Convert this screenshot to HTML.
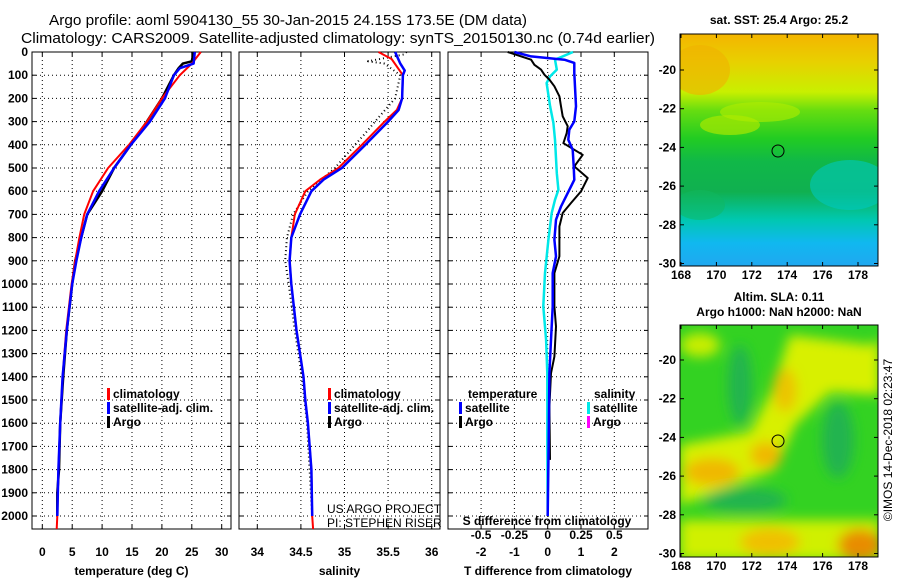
<!DOCTYPE html>
<html><head><meta charset="utf-8"><style>
html,body{margin:0;padding:0;background:#fff;}
svg text{font-family:"Liberation Sans",sans-serif;}
</style></head><body>
<svg id="c" width="900" height="580" viewBox="0 0 900 580" xmlns="http://www.w3.org/2000/svg">
<defs>
<linearGradient id="sstg" x1="0" y1="0" x2="0" y2="1">
<stop offset="0" stop-color="#f4b400"/><stop offset="0.12" stop-color="#e8d000"/><stop offset="0.25" stop-color="#c8f000"/>
<stop offset="0.33" stop-color="#66dd10"/><stop offset="0.45" stop-color="#22cc22"/><stop offset="0.55" stop-color="#10b848"/>
<stop offset="0.68" stop-color="#10b050"/><stop offset="0.8" stop-color="#00c8b0"/><stop offset="0.9" stop-color="#10b8f0"/><stop offset="1" stop-color="#20a8f0"/>
</linearGradient>
<filter id="bl" x="-20%" y="-20%" width="140%" height="140%"><feGaussianBlur stdDeviation="6"/></filter>
<clipPath id="m1c"><rect x="680" y="34" width="198" height="232"/></clipPath>
<clipPath id="m2c"><rect x="680" y="325" width="198" height="232"/></clipPath>
</defs>
<text x="288" y="25" text-anchor="middle" font-size="15" textLength="478" lengthAdjust="spacingAndGlyphs">Argo profile: aoml 5904130_55 30-Jan-2015 24.15S 173.5E (DM data)</text>
<text x="338" y="43" text-anchor="middle" font-size="15" textLength="634" lengthAdjust="spacingAndGlyphs">Climatology: CARS2009. Satellite-adjusted climatology: synTS_20150130.nc (0.74d earlier)</text>
<g id="plots"></g>
<!-- maps -->
<g clip-path="url(#m1c)">
<rect x="680" y="34" width="198" height="232" fill="url(#sstg)"/>
<ellipse cx="730" cy="125" rx="30" ry="10" fill="#a8e800" opacity="0.7"/>
<ellipse cx="760" cy="112" rx="40" ry="10" fill="#b0ec00" opacity="0.6"/>
<ellipse cx="700" cy="70" rx="30" ry="25" fill="#f0b000" opacity="0.6"/>
<ellipse cx="850" cy="185" rx="40" ry="25" fill="#00c8c0" opacity="0.6"/>
<ellipse cx="700" cy="205" rx="25" ry="15" fill="#10b860" opacity="0.5"/>
</g>
<rect x="680" y="34" width="198" height="232" fill="none" stroke="#000"/>
<g clip-path="url(#m2c)">
<rect x="680" y="325" width="198" height="232" fill="#33d222"/>
<g filter="url(#bl)">
<path d="M680 445 L750 432 L772 390 L790 335 L870 345 L880 340 L880 395 L830 392 L795 425 L775 470 L720 490 L680 505 Z" fill="#d8f000"/>
<rect x="680" y="520" width="200" height="40" fill="#d0f000"/>
<ellipse cx="712" cy="472" rx="28" ry="14" fill="#f0b800"/>
<ellipse cx="766" cy="455" rx="16" ry="13" fill="#f0b800"/>
<ellipse cx="785" cy="390" rx="12" ry="22" fill="#ecc400"/>
<ellipse cx="770" cy="542" rx="30" ry="14" fill="#f0c000"/>
<ellipse cx="860" cy="545" rx="22" ry="16" fill="#e88c00"/>
<ellipse cx="745" cy="500" rx="42" ry="12" fill="#20b450"/>
<ellipse cx="740" cy="385" rx="12" ry="40" fill="#20b450"/>
<ellipse cx="838" cy="440" rx="16" ry="38" fill="#20b450"/>
<ellipse cx="700" cy="345" rx="20" ry="12" fill="#c8ee00"/>
</g>
</g>
<rect x="680" y="325" width="198" height="232" fill="none" stroke="#000"/>
<circle cx="778" cy="151" r="6" fill="none" stroke="#000"/>
<circle cx="778" cy="441" r="6" fill="none" stroke="#000"/>
<text x="779" y="24" text-anchor="middle" font-size="12" font-weight="bold">sat. SST: 25.4 Argo: 25.2</text>
<text x="779" y="301" text-anchor="middle" font-size="12" font-weight="bold">Altim. SLA: 0.11</text>
<text x="779" y="316" text-anchor="middle" font-size="12" font-weight="bold">Argo h1000: NaN h2000: NaN</text>
<text transform="translate(892,440) rotate(-90)" text-anchor="middle" font-size="12">©IMOS 14-Dec-2018 02:23:47</text>
<g id="maps-axes"></g>
</svg>
<script>
// ---- data ----
const depthTicks=[0,100,200,300,400,500,600,700,800,900,1000,1100,1200,1300,1400,1500,1600,1700,1800,1900,2000];
const tempTicks=[0,5,10,15,20,25,30];
const salTicks=[34,34.5,35,35.5,36];
const tdiffTicks=[-2,-1,0,1,2];
const sdiffTicks=[-0.5,-0.25,0,0.25,0.5];
const tClimDepth=[0,50,100,200,300,400,500,600,700,800,900,1000,1200,1400,1600,1800,2000,2056];
const tClim=[26.5,25,23,20,17.5,14.5,11,8.5,7,6.2,5.5,4.9,4,3.4,3,2.7,2.5,2.4];
const tSatDepth=[0,50,70,100,200,300,400,500,600,700,800,900,1000,1200,1400,1600,1800,2000];
const tSat=[25.5,25.3,23,22,20.5,18,14.8,12,9.5,7.5,6.5,5.7,5,4.1,3.4,3,2.7,2.5];
const tArgoDepth=[0,40,50,70,100,200,300,400,500,600,700,800,900,1000,1200,1400,1600,1800,1900,2000];
const tArgo=[25.3,25,23.5,22.8,22,20,17.5,14.8,12,10,7.5,6.5,5.5,5,4.1,3.5,3,2.8,2.5,2.5];
const sClimDepth=[0,30,100,200,250,300,400,500,550,600,700,800,900,1000,1100,1200,1300,1400,1500,1600,1800,2000,2056];
const sClim=[35.39,35.54,35.67,35.66,35.6,35.46,35.2,34.93,34.72,34.55,34.43,34.39,34.37,34.39,34.42,34.45,34.49,34.53,34.55,34.58,34.62,34.63,34.64];
const sSatDepth=[0,50,80,100,200,250,300,400,500,550,600,700,800,900,1000,1100,1200,1300,1400,1500,1600,1800,2000];
const sSat=[35.58,35.64,35.69,35.67,35.66,35.62,35.5,35.24,34.97,34.76,34.62,34.49,34.39,34.37,34.39,34.42,34.45,34.49,34.53,34.55,34.58,34.62,34.63];
const sArgoDepth=[0,10,40,50,100,200,300,350,400,500,600,700,800,900,1000,1200,1400,1600,1800,2000];
const sArgo=[35.71,35.69,35.27,35.46,35.64,35.58,35.35,35.24,35.12,34.89,34.58,34.41,34.34,34.32,34.36,34.43,34.51,34.57,34.6,34.63];
const dArgoDepth=[0,33,55,76,98,119,148,191,234,277,320,349,393,443,493,543,601,651,694,752,809,881,953,1097,1183,1313,1385,1528,1758];
const dArgoT=[-1.2,-0.5,-0.4,-0.2,-0.1,0.05,0.2,0.35,0.4,0.45,0.6,0.57,0.47,1.05,0.8,1.2,1.0,0.7,0.45,0.35,0.35,0.35,0.2,0.2,0.25,0.2,0.1,0.05,0.07];
const dSatDepth=[0,19,33,47,91,234,299,335,378,421,493,551,608,666,723,809,881,953,1097,1241,1385,1672,2000];
const dSatT=[-1.0,-0.5,0.5,0.8,0.8,0.85,0.8,0.65,0.62,0.75,0.78,0.8,0.6,0.4,0.25,0.2,0.25,0.15,0.15,0.1,0.05,0.03,0];
const dSalDepth=[0,33,76,105,134,234,306,378,522,594,637,694,809,953,1097,1241,1385,1672,2000];
const dSal=[0.19,0.055,0.068,0.018,-0.008,0.018,0.043,0.055,0.068,0.08,0.055,0.03,0.005,-0.02,-0.033,-0.012,-0.003,-0.003,0];
const lonTicks=[168,170,172,174,176,178];
const latTicks=[-20,-22,-24,-26,-28,-30];

// ---- geometry ----
const NS="http://www.w3.org/2000/svg";
const svg=document.getElementById('plots');
const yTop=52,yBot=529;
const yD=d=>yTop+d*0.232;
const P1={x0:32,x1:231}, P2={x0:239,x1:440}, P3={x0:448,x1:648};
const xT=v=>42.3+v*5.98;
const xS=v=>257.3+(v-34)*87.2;
const xDT=v=>547.7+v*33.3;
const xDS=v=>547.7+v*4*33.3;
function mk(tag,attrs,parent){const e=document.createElementNS(NS,tag);for(const k in attrs)e.setAttribute(k,attrs[k]);(parent||svg).appendChild(e);return e;}
function txt(x,y,s,attrs,parent){const e=mk('text',Object.assign({x:x,y:y,'font-size':12,'font-weight':'bold'},attrs||{}),parent);e.textContent=s;return e;}

function panel(P,name,xticks,xf,xlabels,title){
  const g=mk('g',{});
  
  
  depthTicks.forEach(d=>{mk('line',{x1:P.x0,x2:P.x1,y1:yD(d),y2:yD(d),stroke:'#000','stroke-dasharray':'1,3','stroke-width':1},g);
    mk('line',{x1:P.x0,x2:P.x0+4,y1:yD(d),y2:yD(d),stroke:'#000'},g);mk('line',{x1:P.x1-4,x2:P.x1,y1:yD(d),y2:yD(d),stroke:'#000'},g);});
  xticks.forEach((v,i)=>{const x=xf(v);mk('line',{x1:x,x2:x,y1:yTop,y2:yBot,stroke:'#000','stroke-dasharray':'1,3'},g);
    mk('line',{x1:x,x2:x,y1:yBot-4,y2:yBot,stroke:'#000'},g);mk('line',{x1:x,x2:x,y1:yTop,y2:yTop+4,stroke:'#000'},g);
    if(xlabels){const t=txt(x,556,xlabels[i],{'text-anchor':'middle'},g);}});
  mk('rect',{x:P.x0,y:yTop,width:P.x1-P.x0,height:yBot-yTop,fill:'none',stroke:'#000'},g);
  const t=txt((P.x0+P.x1)/2,575,title,{'text-anchor':'middle'},g);
  
  return g;
}
function line(g,depths,vals,xf,color,w,dash,name){
  const pts=depths.map((d,i)=>xf(vals[i]).toFixed(1)+','+yD(d).toFixed(1)).join(' ');
  const e=mk('polyline',{points:pts,fill:'none',stroke:color,'stroke-width':w,'stroke-linejoin':'round'},g);
  if(dash)e.setAttribute('stroke-dasharray',dash);
  
  
}
function legend(g,x,y,color,label){
  mk('rect',{x:x,y:y-10,width:3,height:12,fill:color},g);
  const t=txt(x+6,y,label,{},g);
  
}
depthTicks.forEach(d=>{const t=txt(28,yD(d)+4,String(d),{'text-anchor':'end'});
  });

const g1=panel(P1,'temperature-panel',tempTicks,xT,tempTicks.map(String),'temperature (deg C)');
line(g1,tArgoDepth,tArgo,xT,'#000',2.5,null,'temp-argo-line');
line(g1,tClimDepth,tClim,xT,'#f00',2,null,'temp-climatology-line');
line(g1,tSatDepth,tSat,xT,'#00f',2.5,null,'temp-satellite-line');
legend(g1,107,398,'#f00','climatology');legend(g1,107,412,'#00f','satellite-adj. clim.');legend(g1,107,426,'#000','Argo');

const g2=panel(P2,'salinity-panel',salTicks,xS,salTicks.map(String),'salinity');
line(g2,sArgoDepth,sArgo,xS,'#000',2,'1,3','sal-argo-line');
line(g2,sClimDepth,sClim,xS,'#f00',2,null,'sal-climatology-line');
line(g2,sSatDepth,sSat,xS,'#00f',2.5,null,'sal-satellite-line');
legend(g2,328,398,'#f00','climatology');legend(g2,328,412,'#00f','satellite-adj. clim.');legend(g2,328,426,'#000','Argo');
const c1=txt(327,513,'US ARGO PROJECT',{'font-weight':'normal'},g2);
const c2=txt(327,527,'PI: STEPHEN RISER',{'font-weight':'normal'},g2);

const g3=panel(P3,'difference-panel',tdiffTicks,xDT,tdiffTicks.map(String),'T difference from climatology');
line(g3,dSalDepth,dSal,xDS,'#00e8e8',2.5,null,'sal-diff-satellite-line');
line(g3,dArgoDepth,dArgoT,xDT,'#000',2,null,'temp-diff-argo-line');
line(g3,dSatDepth,dSatT,xDT,'#00f',2.5,null,'temp-diff-satellite-line');
const lt=txt(468,398,'temperature',{},g3);
const ls=txt(594,398,'salinity',{},g3);
legend(g3,459,412,'#00f','satellite');legend(g3,459,426,'#000','Argo');
legend(g3,587,412,'#00e8e8','satellite');legend(g3,587,426,'#f0f','Argo');
const sd=txt(547,525,'S difference from climatology',{'text-anchor':'middle'},g3);
sdiffTicks.forEach(v=>{const t=txt(xDS(v),539,String(v),{'text-anchor':'middle'},g3);});

// map axes
const ma=document.getElementById('maps-axes');
const xLon=v=>681+(v-168)*17.7;
[[34,266,70],[325,557,360]].forEach(m=>{
  const [top,bot,y20]=m;
  latTicks.forEach(v=>{const y=y20+(-20-v)*19.35;
    mk('line',{x1:680,x2:684,y1:y,y2:y,stroke:'#000'},ma);mk('line',{x1:874,x2:878,y1:y,y2:y,stroke:'#000'},ma);
    const t=txt(676,y+4,String(v),{'text-anchor':'end'},ma);});
  lonTicks.forEach(v=>{const x=xLon(v);
    mk('line',{x1:x,x2:x,y1:bot-4,y2:bot,stroke:'#000'},ma);mk('line',{x1:x,x2:x,y1:top,y2:top+4,stroke:'#000'},ma);
    const t=txt(x,bot+13,String(v),{'text-anchor':'middle'},ma);});
});
</script>
</body></html>
